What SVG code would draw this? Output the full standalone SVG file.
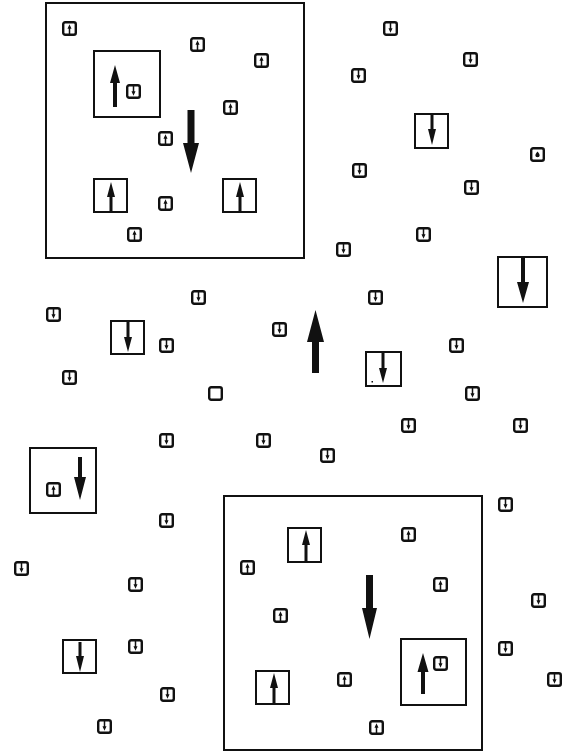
<svg xmlns="http://www.w3.org/2000/svg" xmlns:xlink="http://www.w3.org/1999/xlink" width="564" height="753" viewBox="0 0 564 753">
<style>
.frame{fill:none;stroke:#111;stroke-width:2}
.cell{fill:#fff;stroke:#111;stroke-width:2}
.scell{fill:#fff;stroke:#111;stroke-width:2.4}
.arr{fill:#111;stroke:none}
.thin{stroke:#111;stroke-width:1.5;fill:none}
</style>
<defs>
<g id="su"><rect x="1.2" y="1.2" width="12.6" height="12.6" rx="2" class="scell"/><line x1="7.5" y1="6" x2="7.5" y2="14" class="thin"/><path d="M5.5 7.8 L7.5 3.3 L9.5 7.8Z" class="arr"/></g>
<g id="sd"><rect x="1.2" y="1.2" width="12.6" height="12.6" rx="2" class="scell"/><line x1="7.5" y1="1" x2="7.5" y2="9" class="thin"/><path d="M5.5 7.2 L7.5 11.7 L9.5 7.2Z" class="arr"/></g>
<g id="se"><rect x="1.2" y="1.2" width="12.6" height="12.6" rx="2" class="scell"/></g>
<g id="sdot"><rect x="1.2" y="1.2" width="12.6" height="12.6" rx="2" class="scell"/><path d="M7.5 4.5 C9.5 7 9.8 8 9.5 9 C9 10.6 6 10.6 5.5 9 C5.2 8 5.5 7 7.5 4.5Z" class="arr"/></g>
</defs>
<rect width="564" height="753" fill="#fff"/>

<g id="domains">
<rect id="domain-top" x="46" y="3" width="258" height="255" class="frame"/>
<rect id="domain-bottom" x="224" y="496" width="258" height="254" class="frame"/>
</g>

<g id="main-arrows">
<polygon id="big-down-1" class="arr" points="187.5,110 194.5,110 194.5,143 199,143 191,173 183,143 187.5,143"/>
<polygon id="big-up" class="arr" points="315.5,310 324,342 319,342 319,373 312,373 312,342 307,342"/>
<polygon id="big-down-2" class="arr" points="366,575 373,575 373,608 377,608 369.5,639 362,608 366,608"/>
</g>

<g id="m1"><rect x="94" y="51" width="66" height="66" class="cell"/><polygon class="arr" points="115,65 120,83 117,83 117,107 113,107 113,83 110,83"/><use href="#sd" x="126" y="84"/></g>
<g id="m2"><rect x="94" y="179" width="33" height="33" class="cell"/><polygon class="arr" points="111,182 115,197 112.5,197 112.5,212 109.5,212 109.5,197 107,197"/></g>
<g id="m3"><rect x="223" y="179" width="33" height="33" class="cell"/><polygon class="arr" points="240,182 244,197 241.5,197 241.5,212 238.5,212 238.5,197 236,197"/></g>
<g id="m4"><rect x="415" y="114" width="33" height="34" class="cell"/><polygon class="arr" points="430.5,114 433.5,114 433.5,129 436,129 432,145 428,129 430.5,129"/></g>
<g id="m5"><rect x="498" y="257" width="49" height="50" class="cell"/><polygon class="arr" points="521,258 525,258 525,282 529,282 523,303 517,282 521,282"/></g>
<g id="m6"><rect x="111" y="321" width="33" height="33" class="cell"/><polygon class="arr" points="126.5,321 129.5,321 129.5,337 132,337 128,352 124,337 126.5,337"/></g>
<g id="m7"><rect x="366" y="352" width="35" height="34" class="cell"/><polygon class="arr" points="381.5,352 384.5,352 384.5,368 387,368 383,383 379,368 381.5,368"/><rect x="371.5" y="381" width="1.5" height="1.5" class="arr"/></g>
<g id="m8"><rect x="30" y="448" width="66" height="65" class="cell"/><polygon class="arr" points="78,457 82,457 82,477 86,477 80,500 74,477 78,477"/><use href="#su" x="46" y="482"/></g>
<g id="m9"><rect x="63" y="640" width="33" height="33" class="cell"/><polygon class="arr" points="78.5,642 81.5,642 81.5,656 84,656 80,672 76,656 78.5,656"/></g>
<g id="m10"><rect x="288" y="528" width="33" height="34" class="cell"/><polygon class="arr" points="306,530 310,545 307.5,545 307.5,562 304.5,562 304.5,545 302,545"/></g>
<g id="m11"><rect x="401" y="639" width="65" height="66" class="cell"/><polygon class="arr" points="423,653 428.5,672 425,672 425,694 421,694 421,672 417.5,672"/><use href="#sd" x="433" y="656"/></g>
<g id="m12"><rect x="256" y="671" width="33" height="33" class="cell"/><polygon class="arr" points="274,673 278,688 275.5,688 275.5,704 272.5,704 272.5,688 270,688"/></g>

<g id="up-spins">
<use id="u1" href="#su" x="62" y="21"/>
<use id="u2" href="#su" x="190" y="37"/>
<use id="u3" href="#su" x="254" y="53"/>
<use id="u4" href="#su" x="223" y="100"/>
<use id="u5" href="#su" x="158" y="131"/>
<use id="u6" href="#su" x="158" y="196"/>
<use id="u7" href="#su" x="127" y="227"/>
<use id="u8" href="#su" x="401" y="527"/>
<use id="u9" href="#su" x="240" y="560"/>
<use id="u10" href="#su" x="433" y="577"/>
<use id="u11" href="#su" x="273" y="608"/>
<use id="u12" href="#su" x="337" y="672"/>
<use id="u13" href="#su" x="369" y="720"/>
</g>

<g id="down-spins">
<use id="d1" href="#sd" x="383" y="21"/>
<use id="d2" href="#sd" x="463" y="52"/>
<use id="d3" href="#sd" x="351" y="68"/>
<use id="d4" href="#sdot" x="530" y="147"/>
<use id="d5" href="#sd" x="352" y="163"/>
<use id="d6" href="#sd" x="464" y="180"/>
<use id="d7" href="#sd" x="416" y="227"/>
<use id="d8" href="#sd" x="336" y="242"/>
<use id="d9" href="#sd" x="191" y="290"/>
<use id="d10" href="#sd" x="46" y="307"/>
<use id="d11" href="#sd" x="368" y="290"/>
<use id="d12" href="#sd" x="159" y="338"/>
<use id="d13" href="#sd" x="272" y="322"/>
<use id="d14" href="#sd" x="449" y="338"/>
<use id="d15" href="#sd" x="62" y="370"/>
<use id="d16" href="#sd" x="465" y="386"/>
<use id="d17" href="#sd" x="159" y="433"/>
<use id="d18" href="#sd" x="256" y="433"/>
<use id="d19" href="#sd" x="401" y="418"/>
<use id="d20" href="#sd" x="513" y="418"/>
<use id="d21" href="#sd" x="320" y="448"/>
<use id="d22" href="#sd" x="159" y="513"/>
<use id="d23" href="#sd" x="14" y="561"/>
<use id="d24" href="#sd" x="128" y="577"/>
<use id="d25" href="#sd" x="128" y="639"/>
<use id="d26" href="#sd" x="160" y="687"/>
<use id="d27" href="#sd" x="97" y="719"/>
<use id="d28" href="#sd" x="498" y="497"/>
<use id="d29" href="#sd" x="531" y="593"/>
<use id="d30" href="#sd" x="498" y="641"/>
<use id="d31" href="#sd" x="547" y="672"/>
</g>

<g id="empty-site"><use href="#se" x="208" y="386"/></g>
</svg>
